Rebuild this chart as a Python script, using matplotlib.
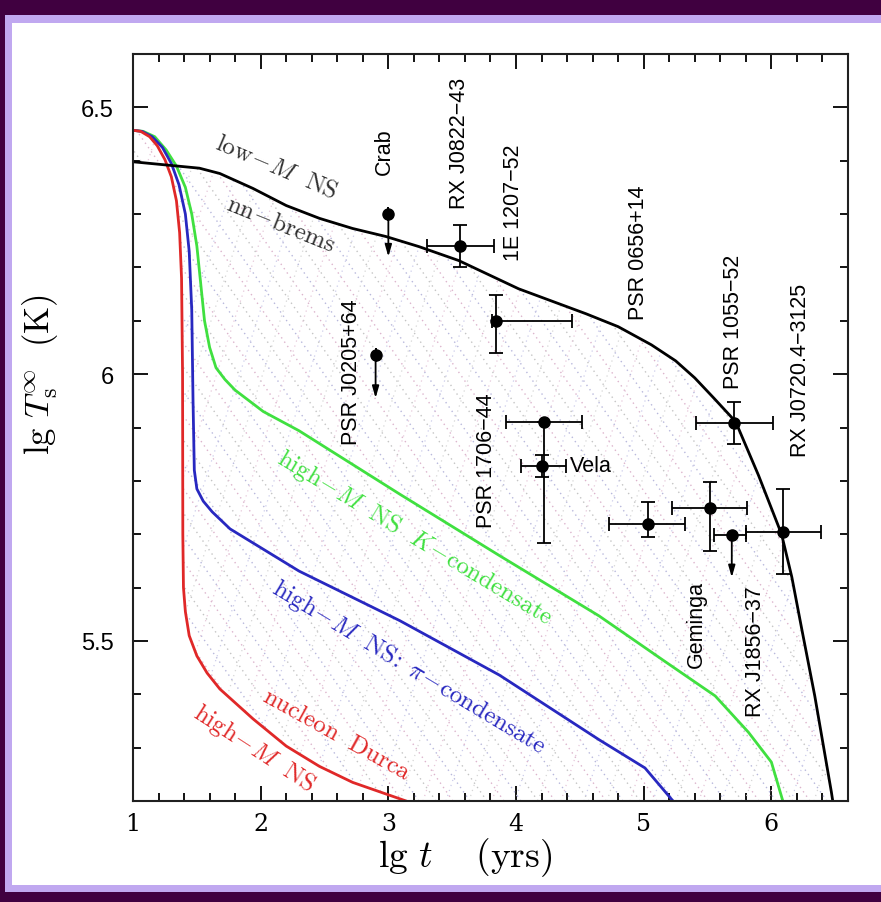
import numpy as np
import matplotlib.pyplot as plt
from matplotlib.collections import LineCollection
from matplotlib.patches import Polygon, Rectangle

plt.rcParams["mathtext.fontset"] = "cm"

# cooling curves: lg t (yrs) vs lg Ts (K)
low_t = [1.0, 1.52, 1.68, 1.94, 2.20, 2.46, 2.72, 2.98, 3.24, 3.55, 4.02, 4.55,
         4.80, 5.06, 5.25, 5.40, 5.55, 5.72, 5.90, 6.08, 6.16, 6.24, 6.34, 6.47, 6.50]
low_T = [6.398, 6.386, 6.376, 6.348, 6.316, 6.292, 6.273, 6.258, 6.239, 6.213, 6.160, 6.113,
         6.089, 6.055, 6.025, 5.993, 5.955, 5.911, 5.810, 5.700, 5.620, 5.520, 5.397, 5.217, 5.17]

durca_t = [1.0, 1.06, 1.13, 1.19, 1.25, 1.30, 1.34, 1.365, 1.38, 1.388, 1.39, 1.395,
           1.41, 1.44, 1.50, 1.58, 1.68, 1.94, 2.20, 2.46, 2.72, 3.14, 3.35]
durca_T = [6.457, 6.455, 6.445, 6.428, 6.402, 6.370, 6.325, 6.265, 6.180, 6.000, 5.700, 5.600,
           5.555, 5.510, 5.472, 5.440, 5.410, 5.354, 5.303, 5.265, 5.235, 5.200, 5.175]

pion_t = [1.0, 1.07, 1.15, 1.23, 1.30, 1.36, 1.41, 1.44, 1.46, 1.47, 1.48, 1.50,
          1.55, 1.62, 1.76, 2.30, 3.09, 3.87, 4.65, 5.01, 5.23, 5.30]
pion_T = [6.457, 6.455, 6.445, 6.425, 6.395, 6.355, 6.300, 6.230, 6.120, 5.950, 5.820, 5.785,
          5.762, 5.742, 5.710, 5.631, 5.538, 5.436, 5.315, 5.262, 5.200, 5.18]

kaon_t = [1.0, 1.08, 1.17, 1.26, 1.34, 1.41, 1.46, 1.50, 1.53, 1.56, 1.60, 1.65,
          1.72, 1.80, 2.02, 2.30, 3.09, 3.87, 4.65, 5.17, 5.56, 5.82, 6.00, 6.09, 6.12]
kaon_T = [6.457, 6.455, 6.445, 6.420, 6.390, 6.350, 6.300, 6.240, 6.170, 6.100, 6.050, 6.012,
          5.990, 5.970, 5.930, 5.894, 5.775, 5.660, 5.547, 5.461, 5.397, 5.329, 5.273, 5.200, 5.17]

# observed sources: lg t, lg Ts, errors
det_t = [3.56, 3.84, 4.22, 4.20, 5.03, 5.52, 5.71, 6.09]
det_t_lo = [0.26, 0.03, 0.30, 0.16, 0.30, 0.30, 0.30, 0.29]
det_t_hi = [0.27, 0.60, 0.30, 0.19, 0.29, 0.29, 0.30, 0.30]
det_T = [6.241, 6.100, 5.911, 5.828, 5.719, 5.750, 5.909, 5.705]
det_T_lo = [0.041, 0.060, 0.228, 0.020, 0.024, 0.081, 0.039, 0.079]
det_T_hi = [0.039, 0.049, 0.0, 0.021, 0.041, 0.048, 0.039, 0.080]

# upper limits (Crab, PSR J0205+64, RX J1856-37)
lim_t = [3.00, 2.90, 5.69]
lim_T = [6.300, 6.035, 5.699]
lim_t_lo = [0.0, 0.0, 0.14]
lim_t_hi = [0.0, 0.0, 0.11]
lim_drop = 0.08

fig = plt.figure(figsize=(8.81, 9.03), dpi=100)
ax = fig.add_axes([0.151, 0.1118, 0.8115, 0.8273])

# dotted hatching between the fastest and the slowest cooling curves
region = Polygon(np.column_stack([durca_t + low_t[::-1], durca_T + low_T[::-1]]),
                 closed=True, fill=False, lw=0, transform=ax.transData)
ax.add_patch(region)
W, H = 715.0, 747.0
segs = []
for x0 in np.arange(-700, 1500, 17):
    segs.append([(x0 / W, 0), ((x0 - H / np.tan(np.radians(55))) / W, 1)])
lc1 = LineCollection(segs, transform=ax.transAxes, colors=["#dcb4cc", "#b8b8dc", "#c4c4c4"],
                     linewidths=1.0, linestyles=[(0, (1, 2.8))])
ax.add_collection(lc1)
lc1.set_clip_path(region)
segs = []
for x0 in np.arange(-400, 900, 23):
    segs.append([(x0 / W, 0), ((x0 + H / np.tan(np.radians(72))) / W, 1)])
lc2 = LineCollection(segs, transform=ax.transAxes, colors=["#e6c8da", "#ccccea", "#d6d6d6"],
                     linewidths=0.9, linestyles=[(0, (1, 3.2))])
ax.add_collection(lc2)
lc2.set_clip_path(region)

ax.plot(kaon_t, kaon_T, color="#40e040", lw=2.0)
ax.plot(pion_t, pion_T, color="#2828c0", lw=2.0)
ax.plot(durca_t, durca_T, color="#e02828", lw=2.0)
ax.plot(low_t, low_T, color="black", lw=2.0)

ax.errorbar(det_t, det_T, xerr=[det_t_lo, det_t_hi], yerr=[det_T_lo, det_T_hi],
            fmt="o", color="black", ms=8, elinewidth=1.3, capsize=5, capthick=1.3, zorder=5)
ax.errorbar(lim_t, lim_T, xerr=[lim_t_lo, lim_t_hi], fmt="o", color="black",
            ms=8, elinewidth=1.3, capsize=5, capthick=1.3, zorder=5)
for t, T in zip(lim_t, lim_T):
    ax.annotate("", xy=(t, T - lim_drop), xytext=(t, T),
                arrowprops=dict(arrowstyle="-|>,head_length=0.7,head_width=0.2",
                                color="black", lw=1.3, shrinkA=0, shrinkB=0))

# source names
src_pos = {
    "Crab": (2.97, 6.419), "RX J0822-43": (3.56, 6.434), "1E 1207-52": (3.98, 6.324),
    "PSR 0656+14": (4.96, 6.230), "PSR 1055-52": (5.70, 6.100),
    "RX J0720.4-3125": (6.23, 6.008), "PSR J0205+64": (2.71, 6.006),
    "PSR 1706-44": (3.77, 5.840), "Geminga": (5.41, 5.532), "RX J1856-37": (5.875, 5.481),
}
for name, (x, y) in src_pos.items():
    ax.text(x, y, name.replace("-", "\u2212"), rotation=90, ha="center", va="center",
            fontsize=15.5, family="Liberation Sans")
ax.text(4.42, 5.828, "Vela", ha="left", va="center", fontsize=15.5, family="Liberation Sans")

# curve labels
curve_labels = [
    (r"$\mathrm{low}\!-\!M\ \ \mathrm{NS}$", 2.125, 6.391, -23, "#303030"),
    (r"$\mathrm{nn}\!-\!\mathrm{brems}$", 2.16, 6.282, -22, "#303030"),
    (r"$\mathrm{high}\!-\!M\ \ \mathrm{NS}\ \ K\!-\!\mathrm{condensate}$", 3.21, 5.695, -31, "#40e040"),
    (r"$\mathrm{high}\!-\!M\ \ \mathrm{NS}\!:\ \pi\!-\!\mathrm{condensate}$", 3.16, 5.453, -31, "#2828c0"),
    (r"$\mathrm{nucleon}\ \ \mathrm{Durca}$", 2.60, 5.326, -29, "#e02828"),
    (r"$\mathrm{high}\!-\!M\ \ \mathrm{NS}$", 1.95, 5.300, -33, "#e02828"),
]
for txt, x, y, rot, col in curve_labels:
    ax.text(x, y, txt, rotation=rot, rotation_mode="anchor", ha="center", va="center",
            fontsize=18, color=col)

ax.set_xlim(1, 6.6)
ax.set_ylim(5.2, 6.6)
ax.set_xticks([1, 2, 3, 4, 5, 6])
ax.set_xticks(np.arange(1, 6.61, 0.2), minor=True)
ax.set_yticks([5.5, 6, 6.5])
ax.set_yticklabels(["5.5", "6", "6.5"])
ax.set_yticks(np.arange(5.2, 6.61, 0.1), minor=True)
ax.tick_params(which="both", direction="in", top=True, right=True, width=1.3)
ax.tick_params(which="major", length=11)
ax.tick_params(which="minor", length=5.5)
ax.tick_params(axis="y", pad=14, labelsize=17)
ax.tick_params(axis="x", pad=8, labelsize=17)
for lab in ax.get_xticklabels():
    lab.set_family("DejaVu Serif")
for lab in ax.get_yticklabels():
    lab.set_family("Liberation Sans")
for s in ax.spines.values():
    s.set_linewidth(1.5)
    s.set_color("#202020")

ax.set_xlabel(r"$\mathrm{lg}\ t\ \ \ \ (\mathrm{yrs})$", fontsize=27)
ax.set_ylabel(r"$\mathrm{lg}\ T_{\rm s}^{\infty}\ \ (\mathrm{K})$", fontsize=25)
ax.xaxis.set_label_coords(0.464, -0.075)
ax.xaxis.label.set_va("center")
ax.yaxis.set_label_coords(-0.13, 0.572)
ax.yaxis.label.set_va("center")

# frame around the figure
dark, lav = "#400040", "#c0a8f0"
fh, fw = 903.0, 881.0
for (x0, y0, w, h, c) in [
    (0, 0, fw, 10, dark), (5, 10, fw, 7, lav),
    (0, fh - 16, fw, 16, dark), (5, fh - 24, fw, 8, lav),
    (0, 0, 5, fh, dark), (5, 10, 7, fh - 34, lav),
]:
    fig.add_artist(Rectangle((x0 / fw, y0 / fh), w / fw, h / fh, transform=fig.transFigure,
                             color=c, lw=0, zorder=10))

fig.savefig("out.png", dpi=100, facecolor="white")
